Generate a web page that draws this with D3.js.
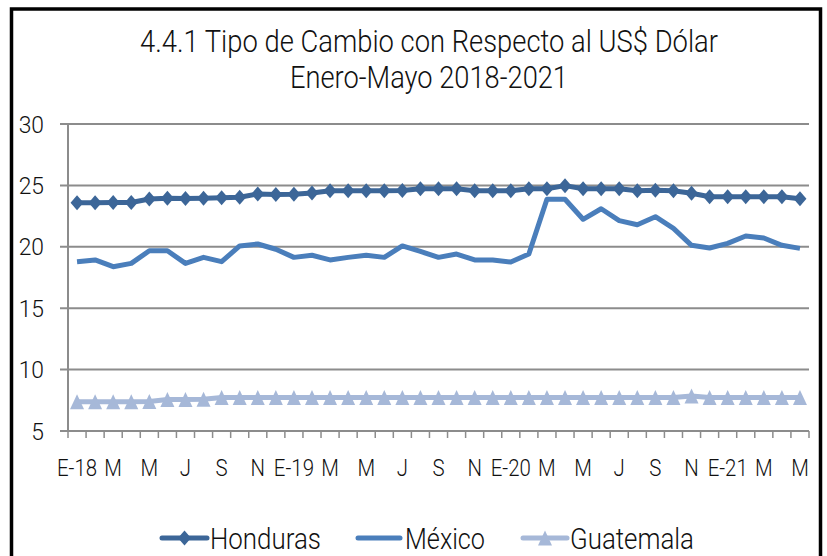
<!DOCTYPE html>
<html>
<head>
<meta charset="utf-8">
<script src="https://cdn.jsdelivr.net/npm/d3@7"></script>
<style>
	html, body { margin: 0; padding: 0; background: #fff; }
	svg text { font-family: Roboto, "Open Sans", "Noto Sans", sans-serif; font-weight: 300; fill: #111; }
</style>
</head>
<body>
<svg id="chart" width="827" height="556"></svg>
<script>
'use strict';

var HON_COLOR = "#3c6698";
var MEX_COLOR = "#4a7ebb";
var GUA_COLOR = "#a6b8d8";
var GRID_COLOR = "#8c8c8c";

// Ene 2018 - May 2021
var months = [
	"Ene-18", "Feb-18", "Mar-18", "Abr-18", "May-18", "Jun-18", "Jul-18", "Ago-18", "Sep-18", "Oct-18", "Nov-18", "Dic-18",
	"Ene-19", "Feb-19", "Mar-19", "Abr-19", "May-19", "Jun-19", "Jul-19", "Ago-19", "Sep-19", "Oct-19", "Nov-19", "Dic-19",
	"Ene-20", "Feb-20", "Mar-20", "Abr-20", "May-20", "Jun-20", "Jul-20", "Ago-20", "Sep-20", "Oct-20", "Nov-20", "Dic-20",
	"Ene-21", "Feb-21", "Mar-21", "Abr-21", "May-21"
];

// one label every two months
var tickLabels = ["E-18", "M", "M", "J", "S", "N", "E-19", "M", "M", "J", "S", "N",
	"E-20", "M", "M", "J", "S", "N", "E-21", "M", "M"];

var yTicks = [5, 10, 15, 20, 25, 30];

var honduras = [
	23.59, 23.59, 23.60, 23.61, 23.89, 23.95, 23.93, 23.95, 24.00, 24.03, 24.30, 24.25,
	24.27, 24.38, 24.57, 24.57, 24.57, 24.57, 24.58, 24.72, 24.73, 24.73, 24.57, 24.57,
	24.57, 24.73, 24.73, 24.98, 24.73, 24.73, 24.73, 24.57, 24.60, 24.57, 24.36, 24.08,
	24.08, 24.08, 24.08, 24.08, 23.92
];

var mexico = [
	18.79, 18.93, 18.38, 18.65, 19.68, 19.68, 18.65, 19.14, 18.79, 20.07, 20.23, 19.80,
	19.14, 19.31, 18.93, 19.14, 19.31, 19.14, 20.07, 19.62, 19.14, 19.41, 18.93, 18.93,
	18.76, 19.41, 23.87, 23.87, 22.24, 23.10, 22.13, 21.80, 22.45, 21.50, 20.12, 19.90,
	20.28, 20.88, 20.72, 20.12, 19.87
];

var guatemala = [
	7.39, 7.39, 7.39, 7.39, 7.40, 7.56, 7.56, 7.58, 7.72, 7.72, 7.72, 7.72,
	7.72, 7.72, 7.72, 7.72, 7.72, 7.72, 7.72, 7.72, 7.72, 7.72, 7.72, 7.72,
	7.72, 7.72, 7.72, 7.72, 7.72, 7.72, 7.72, 7.72, 7.72, 7.72, 7.85, 7.72,
	7.72, 7.72, 7.72, 7.72, 7.72
];

var series = [
	{ name: "Honduras", values: honduras, color: HON_COLOR, marker: "diamond" },
	{ name: "México", values: mexico, color: MEX_COLOR, marker: null },
	{ name: "Guatemala", values: guatemala, color: GUA_COLOR, marker: "triangle" }
];

// excel style markers (a bit taller than wide)
var diamondType = {
	draw: function(ctx, size) {
		var w = 6.5, h = 7.5;
		ctx.moveTo(0, -h); ctx.lineTo(w, 0); ctx.lineTo(0, h); ctx.lineTo(-w, 0); ctx.closePath();
	}
};
var triangleType = {
	draw: function(ctx, size) {
		var w = 7, h = 7.5;
		ctx.moveTo(0, -h); ctx.lineTo(w, h); ctx.lineTo(-w, h); ctx.closePath();
	}
};
function markerPath(kind) {
	return d3.symbol().type(kind === "diamond" ? diamondType : triangleType)();
}

// the original font is a narrow one: squeeze the text a bit
function squeeze(sel, k) {
	sel.each(function() {
		var w = this.getComputedTextLength();
		d3.select(this)
			.attr("textLength", w * k)
			.attr("lengthAdjust", "spacingAndGlyphs");
	});
}

var svg = d3.select("#chart");

// outer frame
svg.append("rect")
	.attr("x", 11.5).attr("y", 9)
	.attr("width", 809).attr("height", 580)
	.attr("fill", "#fff")
	.attr("stroke", "#000")
	.attr("stroke-width", 3.5);

// title
svg.append("text")
	.attr("x", 429).attr("y", 52)
	.attr("text-anchor", "middle")
	.style("font-size", "31px")
	.attr("textLength", 578)
	.attr("lengthAdjust", "spacingAndGlyphs")
	.text("4.4.1 Tipo de Cambio con  Respecto  al US$ Dólar");
svg.append("text")
	.attr("x", 429).attr("y", 88)
	.attr("text-anchor", "middle")
	.style("font-size", "31px")
	.attr("textLength", 278)
	.attr("lengthAdjust", "spacingAndGlyphs")
	.text("Enero-Mayo 2018-2021");

var margin = { left: 68, right: 809, top: 124, bottom: 431 };

var x = d3.scaleBand()
	.domain(months)
	.range([margin.left, margin.right])
	.padding(0);

var y = d3.scaleLinear()
	.domain([5, 30])
	.range([margin.bottom, margin.top]);

var g = svg.append("g");

// gridlines (with the little tick stubs to the left of the axis)
g.append("g")
	.selectAll("line")
	.data(yTicks)
	.enter().append("line")
		.attr("x1", margin.left - 8)
		.attr("x2", margin.right)
		.attr("y1", function(d) { return y(d); })
		.attr("y2", function(d) { return y(d); })
		.attr("stroke", GRID_COLOR)
		.attr("stroke-width", 2);

g.append("line")
	.attr("x1", margin.left).attr("x2", margin.left)
	.attr("y1", y(30)).attr("y2", y(5))
	.attr("stroke", GRID_COLOR)
	.attr("stroke-width", 2);

// x ticks on the band boundaries
var bounds = months.map(function(m) { return x(m); }).concat([x(months[months.length - 1]) + x.bandwidth()]);
g.append("g")
	.selectAll("line")
	.data(bounds)
	.enter().append("line")
		.attr("x1", function(d) { return d; })
		.attr("x2", function(d) { return d; })
		.attr("y1", y(5))
		.attr("y2", y(5) + 7)
		.attr("stroke", GRID_COLOR)
		.attr("stroke-width", 1.5);

// y labels
g.append("g")
	.selectAll("text")
	.data(yTicks)
	.enter().append("text")
		.attr("x", 44)
		.attr("y", function(d) { return y(d); })
		.attr("dy", "0.36em")
		.attr("text-anchor", "end")
		.style("font-size", "24px")
		.text(function(d) { return d; })
		.call(squeeze, 0.95);

// x labels
g.append("g")
	.selectAll("text")
	.data(tickLabels)
	.enter().append("text")
		.attr("x", function(d, i) { return x(months[i * 2]) + x.bandwidth() / 2; })
		.attr("y", 467)
		.attr("dy", "0.36em")
		.attr("text-anchor", "middle")
		.style("font-size", "24px")
		.text(function(d) { return d; })
		.call(squeeze, 0.85);

// series
var line = d3.line()
	.x(function(d, i) { return x(months[i]) + x.bandwidth() / 2; })
	.y(function(d) { return y(d); });

series.slice().reverse().forEach(function(s) {
	var sg = g.append("g").attr("class", "series");

	sg.append("path")
		.datum(s.values)
		.attr("d", line)
		.attr("fill", "none")
		.attr("stroke", s.color)
		.attr("stroke-width", 5)
		.attr("stroke-linejoin", "round");

	if (s.marker) {
		sg.selectAll("path.marker")
			.data(s.values)
			.enter().append("path")
				.attr("class", "marker")
				.attr("d", markerPath(s.marker))
				.attr("transform", function(d, i) {
					return "translate(" + (x(months[i]) + x.bandwidth() / 2) + "," + y(d) + ")";
				})
				.attr("fill", s.color);
	}
});

// legend
var legendItems = [
	{ s: series[0], x1: 162, x2: 207, tx: 210, tw: 111 },
	{ s: series[1], x1: 358, x2: 400, tx: 405, tw: 80 },
	{ s: series[2], x1: 523, x2: 567, tx: 570, tw: 124 }
];
var lg = svg.append("g").attr("class", "legend");
legendItems.forEach(function(item) {
	var ly = 538;
	lg.append("line")
		.attr("x1", item.x1).attr("x2", item.x2)
		.attr("y1", ly).attr("y2", ly)
		.attr("stroke", item.s.color)
		.attr("stroke-width", 5)
		.attr("stroke-linecap", "round");
	if (item.s.marker) {
		lg.append("path")
			.attr("d", markerPath(item.s.marker))
			.attr("transform", "translate(" + ((item.x1 + item.x2) / 2) + "," + ly + ")")
			.attr("fill", item.s.color);
	}
	lg.append("text")
		.attr("x", item.tx)
		.attr("y", ly)
		.attr("dy", "0.36em")
		.style("font-size", "30px")
		.attr("textLength", item.tw)
		.attr("lengthAdjust", "spacingAndGlyphs")
		.text(item.s.name);
});
</script>
</body>
</html>
